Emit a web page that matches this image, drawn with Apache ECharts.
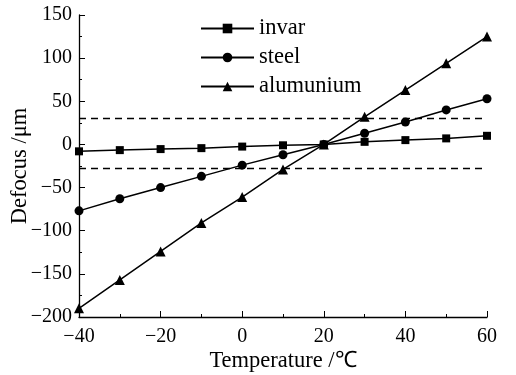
<!DOCTYPE html>
<html>
<head>
<meta charset="utf-8">
<script src="https://cdn.jsdelivr.net/npm/echarts@6/dist/echarts.min.js"></script>
<style>
  html, body { margin: 0; padding: 0; background: #fff; }
  #chart { width: 516px; height: 375px; }
</style>
</head>
<body>
<div id="chart"></div>
<script>
// temperature (℃) and defocus (μm)
const temperature = [-40, -30, -20, -10, 0, 10, 20, 30, 40, 50, 60]
const invar = [-8, -6.6, -5.4, -4.3, -2.5, -1, 0, 3, 5, 7, 10]
const steel = [-77, -63, -50, -37, -24, -12, 0, 13, 26, 40, 53]
const alumunium = [-190, -157, -124, -91, -61, -29, 0, 32, 63, 94, 125]
const limits = [30, -28]

const font = 'Liberation Serif'
const textSize = 22.5

function pairs(ys) {
  return temperature.map((t, i) => [t, ys[i]])
}

function lineSeries(name, data, symbol, size) {
  return {
    name: name,
    type: 'line',
    data: pairs(data),
    symbol: symbol,
    symbolSize: size,
    showAllSymbol: true,
    lineStyle: { color: '#000', width: 1.5 },
    itemStyle: { color: '#000' },
    z: 3
  }
}

const series = [
  lineSeries('invar', invar, 'rect', 8),
  lineSeries('steel', steel, 'circle', 9),
  lineSeries('alumunium', alumunium, 'triangle', 10)
]
// dashed limit lines
series[0].markLine = {
  silent: true,
  symbol: 'none',
  label: { show: false },
  lineStyle: { color: '#000', type: [7, 5], width: 1.3 },
  data: limits.map(v => ({ yAxis: v }))
}

const axisCommon = {
  nameLocation: 'middle',
  nameMoveOverlap: false,
  nameTextStyle: { fontFamily: font, fontSize: textSize, color: '#000' },
  axisLine: { onZero: false, lineStyle: { color: '#000', width: 1.3 } },
  axisTick: { inside: true, length: 6, lineStyle: { color: '#000' } },
  minorTick: { show: true, splitNumber: 2, length: 3, lineStyle: { color: '#000' } },
  axisLabel: {
    fontFamily: font, fontSize: 20, color: '#000', margin: 7,
    formatter: v => String(v).replace('-', '−')
  },
  splitLine: { show: false }
}

const chart = echarts.init(document.getElementById('chart'))
chart.setOption({
  backgroundColor: '#fff',
  animation: false,
  grid: { left: 79, right: 29, top: 15, bottom: 58, outerBoundsMode: 'none' },
  legend: {
    orient: 'vertical',
    left: 195,
    top: 12,
    itemWidth: 53,
    itemHeight: 12,
    itemGap: 6,
    selectedMode: false,
    textStyle: { fontFamily: font, fontSize: textSize, color: '#000' },
    data: ['invar', 'steel', 'alumunium']
  },
  xAxis: Object.assign({}, axisCommon, {
    type: 'value',
    min: -40,
    max: 60,
    interval: 20,
    name: 'Temperature /℃',
    nameGap: 33,
    axisLabel: Object.assign({}, axisCommon.axisLabel, { margin: 10 })
  }),
  yAxis: Object.assign({}, axisCommon, {
    type: 'value',
    min: -200,
    max: 150,
    interval: 50,
    name: 'Defocus /μm',
    nameGap: 47
  }),
  series: series
})
</script>
</body>
</html>
